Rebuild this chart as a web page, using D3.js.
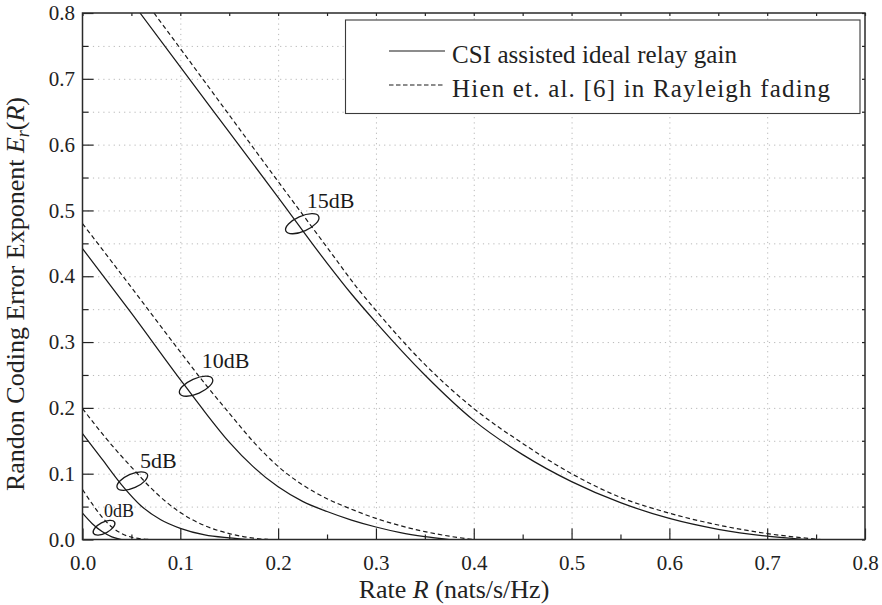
<!DOCTYPE html>
<html>
<head>
<meta charset="utf-8">
<script src="https://cdn.jsdelivr.net/npm/d3@7"></script>
<style>
  html, body { margin: 0; padding: 0; background: #fff; }
  svg, svg text { font-family: "Liberation Serif", "Times New Roman", serif; }
  svg { display: block; }
</style>
</head>
<body>
<svg id="chart" width="882" height="605"></svg>
<script>
// Random coding error exponent E_r(R) versus rate, four SNR levels.
// Each series is a list of [rate, exponent] pairs.
const csi0  = [[0, 0.040], [0.01, 0.024], [0.02, 0.012], [0.03, 0.004], [0.04, 0.0]];
const csi5  = [[0, 0.161], [0.02, 0.122], [0.04, 0.083], [0.06, 0.051], [0.08, 0.030],
               [0.10, 0.017], [0.125, 0.007], [0.15, 0.0025], [0.17, 0.0]];
const csi10 = [[0, 0.442], [0.05, 0.344], [0.10, 0.243], [0.125, 0.194], [0.15, 0.148],
               [0.175, 0.110], [0.20, 0.080], [0.225, 0.058], [0.25, 0.0425], [0.275, 0.0295],
               [0.30, 0.019], [0.325, 0.0105], [0.35, 0.0045], [0.375, 0.0]];
const csi15 = [[0.0588, 0.800], [0.10, 0.718], [0.15, 0.619], [0.20, 0.520], [0.25, 0.420],
               [0.275, 0.373], [0.30, 0.330], [0.35, 0.250], [0.40, 0.181], [0.45, 0.129],
               [0.50, 0.088], [0.55, 0.056], [0.60, 0.032], [0.65, 0.0155], [0.70, 0.005],
               [0.74, 0.0]];

const hien0  = [[0, 0.076], [0.01, 0.054], [0.02, 0.034], [0.03, 0.019], [0.04, 0.009],
                [0.05, 0.0035], [0.06, 0.001], [0.07, 0.0]];
const hien5  = [[0, 0.199], [0.025, 0.152], [0.05, 0.110], [0.075, 0.071], [0.10, 0.041],
                [0.125, 0.021], [0.15, 0.009], [0.175, 0.002], [0.19, 0.0]];
const hien10 = [[0, 0.480], [0.05, 0.383], [0.10, 0.285], [0.125, 0.237], [0.15, 0.192],
                [0.175, 0.148], [0.20, 0.111], [0.225, 0.083], [0.25, 0.062], [0.275, 0.046],
                [0.30, 0.032], [0.325, 0.021], [0.35, 0.012], [0.375, 0.005], [0.40, 0.0]];
const hien15 = [[0.0731, 0.800], [0.10, 0.746], [0.15, 0.645], [0.20, 0.544], [0.25, 0.444],
                [0.28, 0.384], [0.30, 0.348], [0.35, 0.266], [0.40, 0.199], [0.45, 0.146],
                [0.50, 0.100], [0.55, 0.064], [0.60, 0.040], [0.65, 0.022], [0.70, 0.009],
                [0.755, 0.0]];

const legendLabels = ["CSI assisted ideal relay gain", "Hien et. al. [6] in Rayleigh fading"];

// SNR group labels and where each group marker sits, in data units [rate, exponent]
const snrLabels   = ["0dB", "5dB", "10dB", "15dB"];
const snrMarkers  = [[0.022, 0.0179], [0.0509, 0.0888], [0.1161, 0.2329], [0.2247, 0.4798]];
const snrLabelAt  = [[0.022, 0.0337], [0.0588, 0.108], [0.1219, 0.2613], [0.2293, 0.503]];

const xTicks = [0, 0.1, 0.2, 0.3, 0.4, 0.5, 0.6, 0.7, 0.8];
const yTicks = [0, 0.1, 0.2, 0.3, 0.4, 0.5, 0.6, 0.7, 0.8];
const xMinor = [0.05, 0.15, 0.25, 0.35, 0.45, 0.55, 0.65, 0.75];
const yMinor = [0.05, 0.15, 0.25, 0.35, 0.45, 0.55, 0.65, 0.75];

// ---- layout ----
const SERIF = "'Liberation Serif', 'Times New Roman', serif";
const L = 82.5, R = 865, T = 13, B = 539.5;
const svg = d3.select("#chart");
const x = d3.scaleLinear().domain([0, 0.8]).range([L, R]);
const y = d3.scaleLinear().domain([0, 0.8]).range([B, T]);
const fmt = d3.format(".1f");
const ink = "#1a1a1a";

// ---- grid ----
const grid = svg.append("g");
grid.append("g")
  .attr("transform", `translate(0,${B})`)
  .call(d3.axisBottom(x).tickValues(xTicks.slice(1, -1)).tickSize(-(B - T)).tickFormat(""))
  .call(g => g.select(".domain").remove())
  .selectAll("line").attr("stroke", "#b8b8b8").attr("stroke-width", 1).attr("stroke-dasharray", "1.2,4");
grid.append("g")
  .attr("transform", `translate(${L},0)`)
  .call(d3.axisLeft(y).tickValues(yTicks.slice(1, -1).concat(yMinor)).tickSize(-(R - L)).tickFormat(""))
  .call(g => g.select(".domain").remove())
  .selectAll("line").attr("stroke", "#b8b8b8").attr("stroke-width", 1).attr("stroke-dasharray", "1.2,4");

// ---- curves ----
svg.append("clipPath").attr("id", "plot-clip")
  .append("rect").attr("x", L).attr("y", T).attr("width", R - L).attr("height", B - T);

const line = d3.line().x(d => x(d[0])).y(d => y(d[1])).curve(d3.curveMonotoneX);
const curves = svg.append("g").attr("clip-path", "url(#plot-clip)");
[csi0, csi5, csi10, csi15].forEach(s => {
  curves.append("path").attr("d", line(s)).attr("fill", "none")
    .attr("stroke", ink).attr("stroke-width", 1.25);
});
[hien0, hien5, hien10, hien15].forEach(s => {
  curves.append("path").attr("d", line(s)).attr("fill", "none")
    .attr("stroke", ink).attr("stroke-width", 1.2).attr("stroke-dasharray", "4.5,3");
});

// ---- SNR group markers ----
const ellipseSize = [[12, 5.5, -28], [16.5, 7, -24], [18, 7.5, -24], [18, 7.5, -24]];
snrLabels.forEach((lab, i) => {
  const [cx, cy] = [x(snrMarkers[i][0]), y(snrMarkers[i][1])];
  const [rx, ry, rot] = ellipseSize[i];
  svg.append("ellipse")
    .attr("cx", 0).attr("cy", 0).attr("rx", rx).attr("ry", ry)
    .attr("transform", `translate(${cx},${cy}) rotate(${rot})`)
    .attr("fill", "none").attr("stroke", ink).attr("stroke-width", 1.3);
  svg.append("text")
    .attr("x", x(snrLabelAt[i][0])).attr("y", y(snrLabelAt[i][1]))
    .attr("font-size", i === 0 ? 18 : 22).attr("fill", ink)
    .text(lab);
});

// ---- axes ----
function styleAxis(g) {
  g.attr("font-family", SERIF).attr("font-size", 21);
  g.select(".domain").remove();
  g.selectAll("line").attr("stroke", "#222").attr("stroke-width", 1.2);
  g.selectAll("text").attr("fill", "#222");
}
svg.append("g").attr("transform", `translate(0,${B})`)
  .call(d3.axisBottom(x).tickValues(xTicks).tickSize(-11).tickPadding(16).tickFormat(fmt))
  .call(styleAxis);
svg.append("g").attr("transform", `translate(0,${B})`)
  .call(d3.axisBottom(x).tickValues(xMinor).tickSize(-5).tickFormat(""))
  .call(styleAxis);
svg.append("g").attr("transform", `translate(${L},0)`)
  .call(d3.axisLeft(y).tickValues(yTicks).tickSize(-11).tickPadding(7.5).tickFormat(fmt))
  .call(styleAxis);
svg.append("g").attr("transform", `translate(${L},0)`)
  .call(d3.axisLeft(y).tickValues(yMinor).tickSize(-6).tickFormat(""))
  .call(styleAxis);
svg.append("g").attr("transform", `translate(0,${T})`)
  .call(d3.axisTop(x).tickValues(xTicks.concat(xMinor)).tickSize(-3).tickFormat(""))
  .call(styleAxis);
svg.append("g").attr("transform", `translate(${R},0)`)
  .call(d3.axisRight(y).tickValues(yTicks.concat(yMinor)).tickSize(-3).tickFormat(""))
  .call(styleAxis);

// frame
svg.append("rect").attr("x", L).attr("y", T).attr("width", R - L).attr("height", B - T)
  .attr("fill", "none").attr("stroke", "#2a2a2a").attr("stroke-width", 1.5);

// ---- axis titles ----
const xt = svg.append("text").attr("x", 454).attr("y", 598)
  .attr("text-anchor", "middle").attr("font-size", 26).attr("fill", "#222");
xt.append("tspan").text("Rate ");
xt.append("tspan").attr("font-style", "italic").text("R");
xt.append("tspan").text(" (nats/s/Hz)");

const yt = svg.append("text")
  .attr("transform", "translate(24,294) rotate(-90)")
  .attr("text-anchor", "middle").attr("font-size", 26).attr("fill", "#222");
yt.append("tspan").text("Randon Coding Error Exponent ");
yt.append("tspan").attr("font-style", "italic").text("E");
yt.append("tspan").attr("font-style", "italic").attr("font-size", 18).attr("dy", 5).text("r");
yt.append("tspan").attr("dy", -5).text("(");
yt.append("tspan").attr("font-style", "italic").text("R");
yt.append("tspan").text(")");

// ---- legend ----
const lg = svg.append("g");
lg.append("rect").attr("x", 345.5).attr("y", 20).attr("width", 514.5).attr("height", 93.5)
  .attr("fill", "#fff").attr("stroke", "#3a3a3a").attr("stroke-width", 1.1);
const legendDash = [null, "4.5,2.5"];
const legendWidth = [285, 378];
legendLabels.forEach((lab, i) => {
  const ly = 51 + i * 34;
  lg.append("line").attr("x1", 389).attr("x2", 445).attr("y1", ly).attr("y2", ly)
    .attr("stroke", ink).attr("stroke-width", 1.2)
    .attr("stroke-dasharray", legendDash[i]);
  lg.append("text").attr("x", 452).attr("y", ly + 11.7)
    .attr("font-size", 25).attr("fill", "#222")
    .attr("textLength", legendWidth[i]).attr("lengthAdjust", "spacing")
    .text(lab);
});

// every label in the same serif face
svg.selectAll("text").attr("font-family", SERIF);
</script>
</body>
</html>
